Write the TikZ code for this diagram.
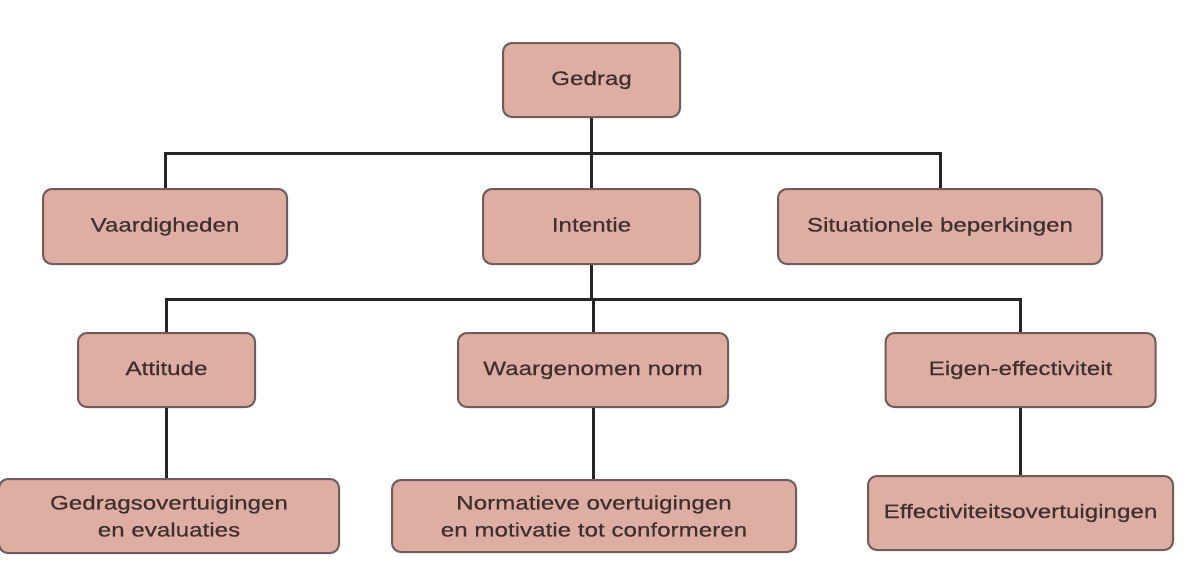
\documentclass[tikz,border=0pt]{standalone}
\usepackage{fontspec}
\setmainfont[FakeStretch=1.24,FakeBold=0.4]{Liberation Sans}
\definecolor{boxfill}{RGB}{222,174,163}
\definecolor{boxdraw}{RGB}{112,92,90}
\definecolor{boxtext}{RGB}{62,48,46}
\begin{document}
\begin{tikzpicture}[x=1pt,y=-1pt,
  box/.style={draw=boxdraw, line width=2pt, fill=boxfill, rounded corners=9pt,
    text=boxtext, align=center, inner sep=0pt,
    font=\fontsize{19.5}{27}\selectfont},
  one/.style={box, text height=14pt, text depth=4pt},
  conn/.style={draw=black!85, line width=3pt}]
\useasboundingbox (0,0) rectangle (1196,584);
% row 1
\node[one, minimum width=177pt, minimum height=74pt] (gedrag) at (591.5,80) {Gedrag};
% row 2
\node[one, minimum width=244pt, minimum height=75pt] (vaard) at (165,226.5) {Vaardigheden};
\node[one, minimum width=217pt, minimum height=75pt] (intentie) at (591.5,226.5) {Intentie};
\node[one, minimum width=324pt, minimum height=75pt] (situ) at (940,226.5) {Situationele beperkingen};
% row 3
\node[one, minimum width=177pt, minimum height=74pt] (attitude) at (166.5,370) {Attitude};
\node[one, minimum width=270pt, minimum height=74pt] (norm) at (593,370) {Waargenomen norm};
\node[one, minimum width=270pt, minimum height=74pt] (eigen) at (1020.5,370) {Eigen-effectiviteit};
% row 4
\node[box, minimum width=340pt, minimum height=74pt] (gedov) at (169,516) {Gedragsovertuigingen\\en evaluaties};
\node[box, minimum width=404pt, minimum height=72pt] (normov) at (594,516) {Normatieve overtuigingen\\en motivatie tot conformeren};
\node[one, minimum width=305pt, minimum height=74pt] (effov) at (1020.5,513) {Effectiviteitsovertuigingen};
% junctions
\coordinate (j1) at (591.5,153);
\coordinate (j2) at (592,299);
% connectors
\draw[conn] (gedrag.south) -- (gedrag.south |- intentie.north);
\draw[conn] (vaard.north) |- (j1) -| (situ.north);
\draw[conn] (intentie.south) -- (intentie.south |- j2);
\draw[conn] (attitude.north) |- (j2) -| (eigen.north);
\draw[conn] (norm.north |- j2) -- (norm.north);
\draw[conn] (attitude.south) -- (attitude.south |- gedov.north);
\draw[conn] (norm.south) -- (norm.south |- normov.north);
\draw[conn] (eigen.south) -- (eigen.south |- effov.north);
\end{tikzpicture}
\end{document}
